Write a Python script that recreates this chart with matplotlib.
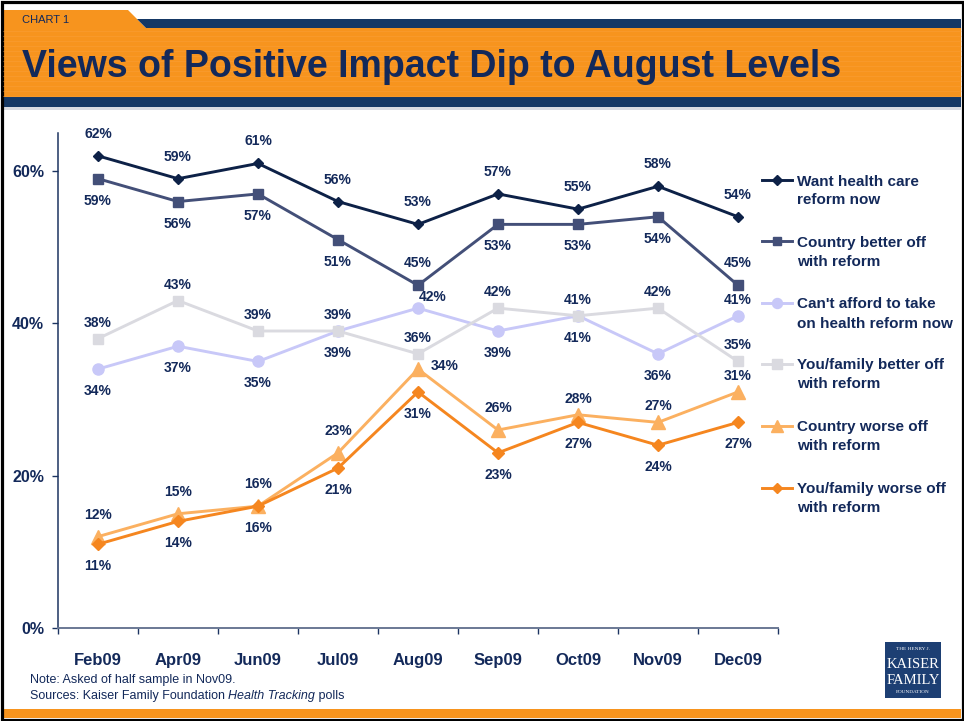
import matplotlib
matplotlib.use('Agg')
import matplotlib.pyplot as plt
from matplotlib.patches import Rectangle, Polygon
from matplotlib.lines import Line2D

# ---------------- data ----------------
months = ['Feb09', 'Apr09', 'Jun09', 'Jul09', 'Aug09', 'Sep09', 'Oct09', 'Nov09', 'Dec09']
want_now = [62, 59, 61, 56, 53, 57, 55, 58, 54]
country_better = [59, 56, 57, 51, 45, 53, 53, 54, 45]
cant_afford = [34, 37, 35, 39, 42, 39, 41, 36, 41]
family_better = [38, 43, 39, 39, 36, 42, 41, 42, 35]
country_worse = [12, 15, 16, 23, 34, 26, 28, 27, 31]
family_worse = [11, 14, 16, 21, 31, 23, 27, 24, 27]
legend_labels = ['Want health care\nreform now',
                 'Country better off\nwith reform',
                 "Can't afford to take\non health reform now",
                 'You/family better off\nwith reform',
                 'Country worse off\nwith reform',
                 'You/family worse off\nwith reform']
y_ticks = [0, 20, 40, 60]
y_tick_labels = ['0%', '20%', '40%', '60%']
title = 'Views of Positive Impact Dip to August Levels'
note = 'Note: Asked of half sample in Nov09.'

# ---------------- style ----------------
W, H = 964, 721
FONT = 'Liberation Sans'
TXT = '#13295a'
NAVY = '#153865'
ORANGE = '#f7941e'

# label placement codes: a=above, A=close above, b=below, r/R=right
place_want = ['a'] * 9
place_cbetter = ['b', 'b', 'b', 'b', 'a', 'b', 'b', 'b', 'a']
place_afford = ['b', 'b', 'b', 'b', 'r', 'b', 'b', 'b', 'A']
place_fbetter = ['A'] * 9
place_cworse = ['a', 'a', 'a', 'a', 'R', 'a', 'A', 'A', 'A']
place_fworse = ['b'] * 9

offsets = {'a': (0, 22), 'A': (0, 16), 'b': (0, -22), 'r': (15, 11), 'R': (27, 3)}

series = [
    # values, color, marker, markersize, placement, legend index
    (cant_afford, '#c8c8f8', 'o', 8.0, place_afford, 2),
    (family_better, '#dadae0', 's', 7.5, place_fbetter, 3),
    (country_worse, '#fbb060', '^', 9.5, place_cworse, 4),
    (family_worse, '#f5861f', 'D', 6.0, place_fworse, 5),
    (country_better, '#434f78', 's', 7.0, place_cbetter, 1),
    (want_now, '#0d2147', 'D', 5.5, place_want, 0),
]


def fx(x):
    return x / W


def fy(y):
    return 1 - y / H


fig = plt.figure(figsize=(W / 100, H / 100), dpi=100)
fig.patch.set_facecolor('white')

# ---------------- banner ----------------
fig.patches.append(Polygon([(fx(3), fy(10)), (fx(128), fy(10)), (fx(146), fy(28)), (fx(3), fy(28))],
                           closed=True, transform=fig.transFigure, facecolor=ORANGE, edgecolor='none'))
fig.patches.append(Polygon([(fx(137), fy(19)), (fx(961), fy(19)), (fx(961), fy(28)), (fx(146), fy(28))],
                           closed=True, transform=fig.transFigure, facecolor=NAVY, edgecolor='none'))
fig.patches.append(Rectangle((fx(3), fy(97)), fx(958), 69 / H, transform=fig.transFigure,
                             facecolor=ORANGE, edgecolor='none'))
for yy in range(31, 97, 5):
    fig.add_artist(Line2D([fx(3), fx(961)], [fy(yy), fy(yy)], transform=fig.transFigure,
                          color='#fba445', lw=0.8, alpha=0.35))
fig.patches.append(Rectangle((fx(3), fy(107)), fx(958), 10 / H, transform=fig.transFigure,
                             facecolor=NAVY, edgecolor='none'))
fig.patches.append(Rectangle((fx(3), fy(110)), fx(958), 3 / H, transform=fig.transFigure,
                             facecolor='#d8dbe2', edgecolor='none'))
# bottom orange bar
fig.patches.append(Rectangle((fx(3), fy(718)), fx(958), 9 / H, transform=fig.transFigure,
                             facecolor=ORANGE, edgecolor='none'))
# frame
fig.patches.append(Rectangle((fx(1.5), fy(719.5)), fx(961), 718 / H, transform=fig.transFigure,
                             facecolor='none', edgecolor='black', lw=2.3))

fig.text(fx(22), fy(20), 'CHART 1', fontsize=8, color=TXT, family=FONT, va='center', ha='left')
fig.text(fx(22), fy(77), title, fontsize=27, fontweight='bold', color=TXT, family=FONT,
         va='baseline', ha='left')

# ---------------- axes ----------------
ax = fig.add_axes([fx(58), fy(628), 720 / W, (628 - 133) / H])
ax.set_xlim(-0.5, 8.5)
ax.set_ylim(0, 65)
for s in ['top', 'right']:
    ax.spines[s].set_visible(False)
ax.spines['left'].set_color('#1c3461')
ax.spines['bottom'].set_color('#6a7894')
ax.spines['left'].set_linewidth(1.1)
ax.spines['bottom'].set_linewidth(1.4)
ax.set_facecolor('none')

x = list(range(len(months)))
ax.set_xticks(x)
ax.set_xticklabels(months, fontsize=12, fontweight='bold', color=TXT, family=FONT)
ax.set_xticks([i - 0.5 for i in range(len(months) + 1)], minor=True)
ax.tick_params(axis='x', which='major', length=0, pad=18)
ax.tick_params(axis='x', which='minor', length=4.5, width=1.0, color='#1c3461', direction='out')
ax.set_yticks(y_ticks)
ax.set_yticklabels(y_tick_labels, fontsize=11.5, fontweight='bold', color=TXT, family=FONT)
ax.tick_params(axis='y', length=4, width=1.0, color='#1c3461', pad=6)

for vals, color, marker, ms, place, li in series:
    ax.plot(x, vals, color=color, lw=2.1, marker=marker, markersize=ms,
            markerfacecolor=color, markeredgecolor=color, clip_on=False)
    for i, v in enumerate(vals):
        dx, dy = offsets[place[i]]
        ax.annotate(f'{v}%', (i, v), xytext=(dx, dy), textcoords='offset pixels',
                    ha='center', va='center', fontsize=10, fontweight='bold', color=TXT,
                    family=FONT, annotation_clip=False)

# ---------------- legend ----------------
leg_y = [180, 241, 303, 364, 426, 488]
for vals, color, marker, ms, place, li in series:
    yy = leg_y[li]
    fig.add_artist(Line2D([fx(762), fx(792)], [fy(yy), fy(yy)], transform=fig.transFigure,
                          color=color, lw=2.1))
    fig.add_artist(Line2D([fx(777)], [fy(yy)], transform=fig.transFigure, color=color,
                          marker=marker, markersize=ms * 0.9, markerfacecolor=color,
                          markeredgecolor=color, lw=0))
    lines = legend_labels[li].split('\n')
    for k, t in enumerate(lines):
        fig.text(fx(797), fy(yy + 5.5 + 19 * k), t, fontsize=11, fontweight='bold', color=TXT,
                 family=FONT, va='baseline', ha='left')

# ---------------- notes ----------------
fig.text(fx(30), fy(680), note, fontsize=9, color=TXT, family=FONT, va='center', ha='left')
renderer = fig.canvas.get_renderer()
parts = [('Sources: Kaiser Family Foundation ', 'normal'), ('Health Tracking', 'italic'), (' polls', 'normal')]
xpos = fx(30)
for t, st in parts:
    tx = fig.text(xpos, fy(696), t, fontsize=9, style=st, color=TXT, family=FONT, va='center', ha='left')
    bb = tx.get_window_extent(renderer=renderer)
    xpos += bb.width / W

# ---------------- logo ----------------
fig.patches.append(Rectangle((fx(885), fy(698)), 56 / W, 56 / H, transform=fig.transFigure,
                             facecolor='#1d3f73', edgecolor='none'))
fig.text(fx(913), fy(649), 'THE HENRY J.', fontsize=3.8, color='white', family='Liberation Serif',
         ha='center', va='center')
fig.text(fx(913), fy(664), 'KAISER', fontsize=10.5, color='white', family='Liberation Serif',
         ha='center', va='center')
fig.text(fx(913), fy(680), 'FAMILY', fontsize=10.5, color='white', family='Liberation Serif',
         ha='center', va='center')
fig.text(fx(913), fy(692), 'FOUNDATION', fontsize=3.8, color='white', family='Liberation Serif',
         ha='center', va='center')

fig.savefig('out.png', dpi=100)
